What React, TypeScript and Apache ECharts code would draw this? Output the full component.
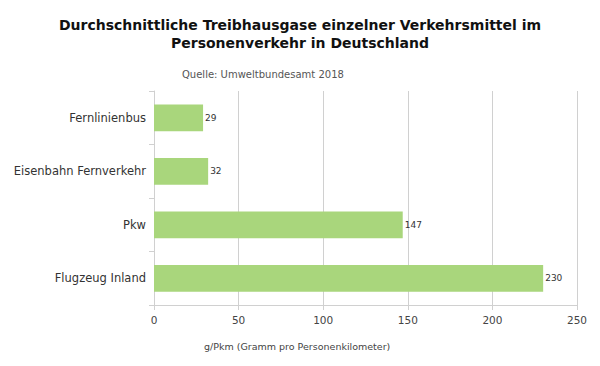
import React, { useEffect, useRef } from "react";
import * as echarts from "echarts";

const categories = ["Flugzeug Inland", "Pkw", "Eisenbahn Fernverkehr", "Fernlinienbus"];
const values = [230, 147, 32, 29];
const titleText = "Durchschnittliche Treibhausgase einzelner Verkehrsmittel im\nPersonenverkehr in Deutschland";
const subtitleText = "Quelle: Umweltbundesamt 2018";
const axisName = "g/Pkm (Gramm pro Personenkilometer)";

export default function App() {
  const ref = useRef<HTMLDivElement>(null);
  useEffect(() => {
    const chart = echarts.init(ref.current!, null, { renderer: "svg" });
    const font = "'DejaVu Sans', sans-serif";
    chart.setOption({
      animation: false,
      backgroundColor: "#ffffff",
      title: [
        {
          text: titleText,
          left: "center",
          top: 11,
          textStyle: { fontFamily: font, fontSize: 14, fontWeight: "bold", color: "#111", lineHeight: 18 },
        },
        {
          text: subtitleText,
          left: 177,
          top: 64,
          textStyle: { fontFamily: font, fontSize: 10, fontWeight: "normal", color: "#555" },
        },
        {
          text: axisName,
          left: 199,
          top: 336,
          textStyle: { fontFamily: font, fontSize: 9.5, fontWeight: "normal", color: "#444" },
        },
      ],
      grid: { left: 154, right: 23, top: 91, bottom: 61, containLabel: false },
      xAxis: {
        type: "value",
        min: 0,
        max: 250,
        interval: 50,
        axisLine: { show: true, lineStyle: { color: "#d0d0d0" } },
        axisTick: { show: true, length: 5, lineStyle: { color: "#d0d0d0" } },
        splitLine: { show: true, lineStyle: { color: "#d0d0d0" } },
        axisLabel: { fontFamily: font, fontSize: 10.5, color: "#444", margin: 9 },
      },
      yAxis: {
        type: "category",
        data: categories,
        axisLine: { show: true, lineStyle: { color: "#d0d0d0" } },
        axisTick: { show: true, length: 5, lineStyle: { color: "#d0d0d0" } },
        axisLabel: { fontFamily: font, fontSize: 11.5, color: "#333", margin: 8 },
      },
      series: [
        {
          type: "bar",
          data: values,
          barWidth: "50%",
          itemStyle: { color: "#a9d67c" },
          label: {
            show: true,
            position: "right",
            distance: 2,
            fontFamily: font,
            fontSize: 9,
            color: "#333",
          },
        },
      ],
    });
    return () => chart.dispose();
  }, []);
  return <div ref={ref} style={{ width: 600, height: 366, position: "absolute", left: 0, top: 0 }} />;
}
